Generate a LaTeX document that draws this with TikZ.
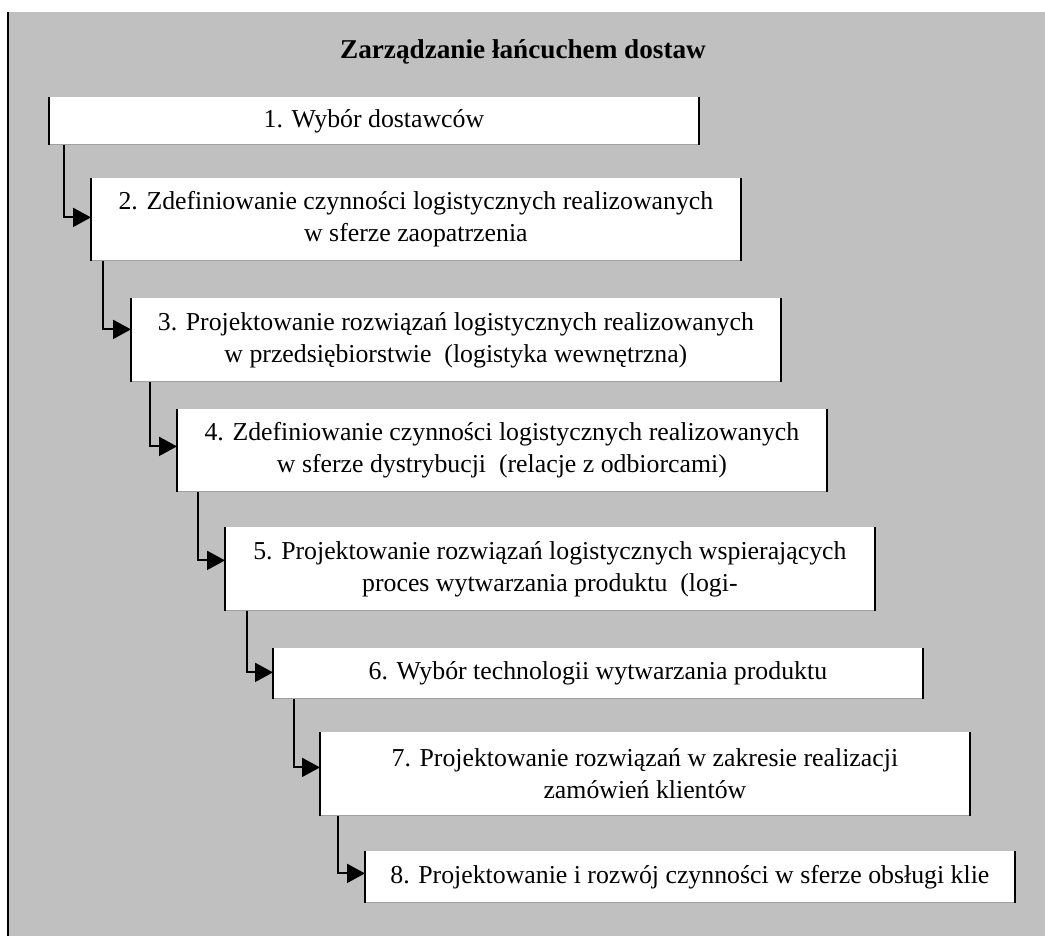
\documentclass[tikz,border=0pt]{standalone}
\usepackage{fontspec}
\setmainfont{Liberation Serif}
\usepackage{tikz}
\usetikzlibrary{arrows.meta}

\definecolor{tlo}{RGB}{192,192,192}
\definecolor{spod}{RGB}{160,160,160}

\begin{document}
\begin{tikzpicture}[x=0.5pt, y=-0.5pt,
    etap/.style={anchor=north west, fill=white, inner sep=0pt, align=center,
        minimum width=324.5pt, font=\fontsize{12.9}{16}\selectfont},
    bok/.style={line width=0.8pt},
    strzalka/.style={line width=1pt, -{Triangle[length=9pt, width=9.5pt]}}]
    \useasboundingbox (0,0) rectangle (1045,936);
\fill[tlo] (8,12) rectangle (1045,936);
\draw[line width=1pt] (8,12) -- (8,936);
\node[font=\fontsize{13.6}{16}\selectfont\bfseries] (tytul) at (523,52) {Zarządzanie łańcuchem dostaw};
\node[etap, minimum height=23.5pt] (b1) at (49,97) {1. Wybór dostawców};
\node[etap, minimum height=41pt] (b2) at (91,178) {2. Zdefiniowanie czynności logistycznych realizowanych\\w sferze zaopatrzenia};
\node[etap, minimum height=41.5pt] (b3) at (131,298) {3. Projektowanie rozwiązań logistycznych realizowanych\\w przedsiębiorstwie\ \ (logistyka wewnętrzna)};
\node[etap, minimum height=41pt] (b4) at (177,409) {4. Zdefiniowanie czynności logistycznych realizowanych\\w sferze dystrybucji\ \ (relacje z odbiorcami)};
\node[etap, minimum height=41.5pt] (b5) at (225,527) {5. Projektowanie rozwiązań logistycznych wspierających\\proces wytwarzania produktu\ \ (logi-};
\node[etap, minimum height=25pt] (b6) at (273,648) {6. Wybór technologii wytwarzania produktu};
\node[etap, minimum height=41.5pt] (b7) at (320,732) {7. Projektowanie rozwiązań w zakresie realizacji\\zamówień klientów};
\node[etap, minimum height=25.5pt] (b8) at (365,851) {8. Projektowanie i rozwój czynności w sferze obsługi klie};
\foreach \i in {1,...,8} {
    \draw[spod] (b\i.south west) -- (b\i.south east);
    \draw[bok] (b\i.north west) -- (b\i.south west);
    \draw[bok] (b\i.north east) -- (b\i.south east);
}
\foreach \a/\b/\dx/\dy in {1/2/7.5/1, 2/3/6/5.25, 3/4/9.5/2, 4/5/10.5/4.25, 5/6/11/0.5, 6/7/10.5/3.25, 7/8/9/1.75}
    \draw[strzalka] ([xshift=\dx pt]b\a.south west) |- ([yshift=\dy pt]b\b.west);
    \end{tikzpicture}
\end{document}
